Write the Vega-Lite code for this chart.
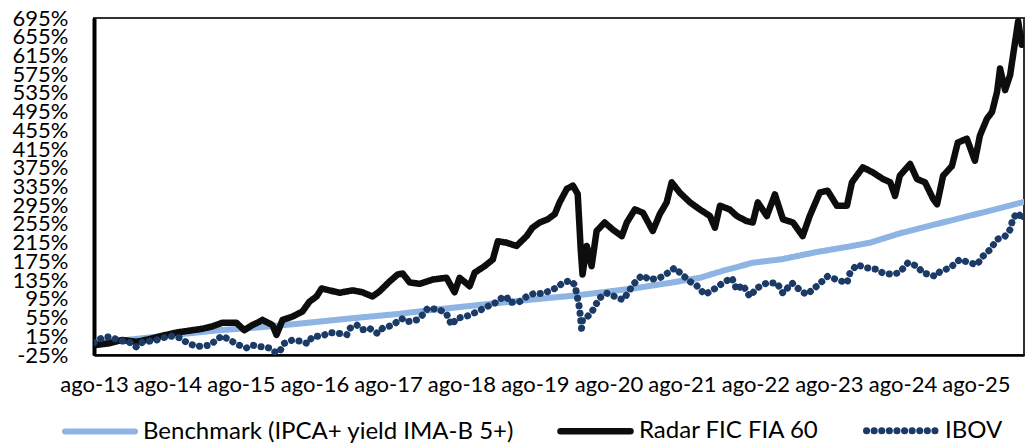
{
  "$schema": "https://vega.github.io/schema/vega-lite/v6.json",
  "width": 930,
  "height": 337,
  "autosize": "none",
  "padding": {"left": 94, "top": 18, "right": 1, "bottom": 89},
  "background": "white",
  "config": {
    "view": {"stroke": "#303030", "strokeWidth": 2},
    "font": "Lato",
    "axis": {"labelFont": "Lato", "labelFontSize": 22, "labelColor": "#000000", "grid": false, "ticks": false, "title": null},
    "legend": {"labelFont": "Lato", "labelFontSize": 24, "labelColor": "#000000"}
  },
  "datasets": {
    "series": [
      {"date": "2013-08-01", "series": "Benchmark (IPCA+ yield IMA-B 5+)", "value": 0},
      {"date": "2014-03-14", "series": "Benchmark (IPCA+ yield IMA-B 5+)", "value": 10},
      {"date": "2014-09-05", "series": "Benchmark (IPCA+ yield IMA-B 5+)", "value": 18},
      {"date": "2015-04-16", "series": "Benchmark (IPCA+ yield IMA-B 5+)", "value": 28},
      {"date": "2015-11-01", "series": "Benchmark (IPCA+ yield IMA-B 5+)", "value": 34},
      {"date": "2016-05-18", "series": "Benchmark (IPCA+ yield IMA-B 5+)", "value": 42},
      {"date": "2017-01-23", "series": "Benchmark (IPCA+ yield IMA-B 5+)", "value": 53},
      {"date": "2017-09-28", "series": "Benchmark (IPCA+ yield IMA-B 5+)", "value": 63},
      {"date": "2018-02-10", "series": "Benchmark (IPCA+ yield IMA-B 5+)", "value": 70},
      {"date": "2018-10-31", "series": "Benchmark (IPCA+ yield IMA-B 5+)", "value": 82},
      {"date": "2019-07-06", "series": "Benchmark (IPCA+ yield IMA-B 5+)", "value": 93},
      {"date": "2020-03-10", "series": "Benchmark (IPCA+ yield IMA-B 5+)", "value": 103},
      {"date": "2020-11-30", "series": "Benchmark (IPCA+ yield IMA-B 5+)", "value": 117},
      {"date": "2021-06-16", "series": "Benchmark (IPCA+ yield IMA-B 5+)", "value": 130},
      {"date": "2021-10-29", "series": "Benchmark (IPCA+ yield IMA-B 5+)", "value": 140},
      {"date": "2022-02-21", "series": "Benchmark (IPCA+ yield IMA-B 5+)", "value": 155},
      {"date": "2022-07-19", "series": "Benchmark (IPCA+ yield IMA-B 5+)", "value": 172},
      {"date": "2022-12-16", "series": "Benchmark (IPCA+ yield IMA-B 5+)", "value": 180},
      {"date": "2023-06-02", "series": "Benchmark (IPCA+ yield IMA-B 5+)", "value": 195},
      {"date": "2023-11-14", "series": "Benchmark (IPCA+ yield IMA-B 5+)", "value": 207},
      {"date": "2024-02-22", "series": "Benchmark (IPCA+ yield IMA-B 5+)", "value": 215},
      {"date": "2024-07-19", "series": "Benchmark (IPCA+ yield IMA-B 5+)", "value": 235},
      {"date": "2025-03-25", "series": "Benchmark (IPCA+ yield IMA-B 5+)", "value": 262},
      {"date": "2025-08-21", "series": "Benchmark (IPCA+ yield IMA-B 5+)", "value": 278},
      {"date": "2026-03-27", "series": "Benchmark (IPCA+ yield IMA-B 5+)", "value": 302},

      {"date": "2013-08-01", "series": "Radar FIC FIA 60", "value": -4},
      {"date": "2013-10-16", "series": "Radar FIC FIA 60", "value": 0},
      {"date": "2013-12-20", "series": "Radar FIC FIA 60", "value": 7},
      {"date": "2014-02-28", "series": "Radar FIC FIA 60", "value": 3},
      {"date": "2014-05-03", "series": "Radar FIC FIA 60", "value": 9},
      {"date": "2014-07-06", "series": "Radar FIC FIA 60", "value": 16},
      {"date": "2014-09-15", "series": "Radar FIC FIA 60", "value": 23},
      {"date": "2014-11-18", "series": "Radar FIC FIA 60", "value": 27},
      {"date": "2015-01-22", "series": "Radar FIC FIA 60", "value": 31},
      {"date": "2015-03-11", "series": "Radar FIC FIA 60", "value": 36},
      {"date": "2015-05-01", "series": "Radar FIC FIA 60", "value": 44},
      {"date": "2015-07-09", "series": "Radar FIC FIA 60", "value": 44},
      {"date": "2015-08-18", "series": "Radar FIC FIA 60", "value": 28},
      {"date": "2015-09-27", "series": "Radar FIC FIA 60", "value": 39},
      {"date": "2015-11-01", "series": "Radar FIC FIA 60", "value": 46},
      {"date": "2015-11-16", "series": "Radar FIC FIA 60", "value": 50},
      {"date": "2016-01-05", "series": "Radar FIC FIA 60", "value": 39},
      {"date": "2016-01-25", "series": "Radar FIC FIA 60", "value": 18},
      {"date": "2016-02-24", "series": "Radar FIC FIA 60", "value": 50},
      {"date": "2016-04-13", "series": "Radar FIC FIA 60", "value": 57},
      {"date": "2016-06-02", "series": "Radar FIC FIA 60", "value": 68},
      {"date": "2016-07-07", "series": "Radar FIC FIA 60", "value": 89},
      {"date": "2016-08-11", "series": "Radar FIC FIA 60", "value": 100},
      {"date": "2016-09-05", "series": "Radar FIC FIA 60", "value": 117},
      {"date": "2016-10-15", "series": "Radar FIC FIA 60", "value": 113},
      {"date": "2016-12-04", "series": "Radar FIC FIA 60", "value": 108},
      {"date": "2017-02-07", "series": "Radar FIC FIA 60", "value": 113},
      {"date": "2017-03-27", "series": "Radar FIC FIA 60", "value": 109},
      {"date": "2017-05-16", "series": "Radar FIC FIA 60", "value": 100},
      {"date": "2017-06-20", "series": "Radar FIC FIA 60", "value": 111},
      {"date": "2017-08-09", "series": "Radar FIC FIA 60", "value": 132},
      {"date": "2017-09-18", "series": "Radar FIC FIA 60", "value": 147},
      {"date": "2017-10-13", "series": "Radar FIC FIA 60", "value": 149},
      {"date": "2017-11-17", "series": "Radar FIC FIA 60", "value": 130},
      {"date": "2018-01-06", "series": "Radar FIC FIA 60", "value": 127},
      {"date": "2018-03-10", "series": "Radar FIC FIA 60", "value": 136},
      {"date": "2018-05-19", "series": "Radar FIC FIA 60", "value": 140},
      {"date": "2018-06-28", "series": "Radar FIC FIA 60", "value": 109},
      {"date": "2018-07-23", "series": "Radar FIC FIA 60", "value": 140},
      {"date": "2018-09-11", "series": "Radar FIC FIA 60", "value": 122},
      {"date": "2018-10-06", "series": "Radar FIC FIA 60", "value": 151},
      {"date": "2018-11-25", "series": "Radar FIC FIA 60", "value": 165},
      {"date": "2019-01-04", "series": "Radar FIC FIA 60", "value": 179},
      {"date": "2019-01-29", "series": "Radar FIC FIA 60", "value": 218},
      {"date": "2019-03-13", "series": "Radar FIC FIA 60", "value": 215},
      {"date": "2019-05-02", "series": "Radar FIC FIA 60", "value": 208},
      {"date": "2019-06-21", "series": "Radar FIC FIA 60", "value": 229},
      {"date": "2019-07-20", "series": "Radar FIC FIA 60", "value": 247},
      {"date": "2019-08-25", "series": "Radar FIC FIA 60", "value": 258},
      {"date": "2019-10-04", "series": "Radar FIC FIA 60", "value": 265},
      {"date": "2019-11-08", "series": "Radar FIC FIA 60", "value": 276},
      {"date": "2019-12-02", "series": "Radar FIC FIA 60", "value": 301},
      {"date": "2020-01-07", "series": "Radar FIC FIA 60", "value": 330},
      {"date": "2020-02-06", "series": "Radar FIC FIA 60", "value": 337},
      {"date": "2020-03-01", "series": "Radar FIC FIA 60", "value": 319},
      {"date": "2020-03-16", "series": "Radar FIC FIA 60", "value": 200},
      {"date": "2020-03-25", "series": "Radar FIC FIA 60", "value": 147},
      {"date": "2020-04-15", "series": "Radar FIC FIA 60", "value": 208},
      {"date": "2020-05-09", "series": "Radar FIC FIA 60", "value": 165},
      {"date": "2020-06-03", "series": "Radar FIC FIA 60", "value": 240},
      {"date": "2020-07-13", "series": "Radar FIC FIA 60", "value": 258},
      {"date": "2020-08-22", "series": "Radar FIC FIA 60", "value": 243},
      {"date": "2020-10-06", "series": "Radar FIC FIA 60", "value": 229},
      {"date": "2020-10-31", "series": "Radar FIC FIA 60", "value": 258},
      {"date": "2020-12-10", "series": "Radar FIC FIA 60", "value": 286},
      {"date": "2021-01-19", "series": "Radar FIC FIA 60", "value": 279},
      {"date": "2021-03-09", "series": "Radar FIC FIA 60", "value": 240},
      {"date": "2021-04-13", "series": "Radar FIC FIA 60", "value": 276},
      {"date": "2021-05-17", "series": "Radar FIC FIA 60", "value": 301},
      {"date": "2021-06-11", "series": "Radar FIC FIA 60", "value": 344},
      {"date": "2021-07-21", "series": "Radar FIC FIA 60", "value": 322},
      {"date": "2021-09-10", "series": "Radar FIC FIA 60", "value": 301},
      {"date": "2021-10-29", "series": "Radar FIC FIA 60", "value": 286},
      {"date": "2021-12-18", "series": "Radar FIC FIA 60", "value": 272},
      {"date": "2022-01-12", "series": "Radar FIC FIA 60", "value": 247},
      {"date": "2022-02-06", "series": "Radar FIC FIA 60", "value": 294},
      {"date": "2022-03-26", "series": "Radar FIC FIA 60", "value": 286},
      {"date": "2022-05-01", "series": "Radar FIC FIA 60", "value": 272},
      {"date": "2022-06-19", "series": "Radar FIC FIA 60", "value": 261},
      {"date": "2022-07-19", "series": "Radar FIC FIA 60", "value": 258},
      {"date": "2022-08-13", "series": "Radar FIC FIA 60", "value": 301},
      {"date": "2022-09-27", "series": "Radar FIC FIA 60", "value": 272},
      {"date": "2022-11-06", "series": "Radar FIC FIA 60", "value": 318},
      {"date": "2022-12-16", "series": "Radar FIC FIA 60", "value": 265},
      {"date": "2023-02-04", "series": "Radar FIC FIA 60", "value": 258},
      {"date": "2023-03-24", "series": "Radar FIC FIA 60", "value": 229},
      {"date": "2023-04-28", "series": "Radar FIC FIA 60", "value": 272},
      {"date": "2023-06-17", "series": "Radar FIC FIA 60", "value": 322},
      {"date": "2023-07-26", "series": "Radar FIC FIA 60", "value": 326},
      {"date": "2023-09-10", "series": "Radar FIC FIA 60", "value": 294},
      {"date": "2023-10-30", "series": "Radar FIC FIA 60", "value": 294},
      {"date": "2023-11-24", "series": "Radar FIC FIA 60", "value": 344},
      {"date": "2024-01-17", "series": "Radar FIC FIA 60", "value": 376},
      {"date": "2024-03-07", "series": "Radar FIC FIA 60", "value": 365},
      {"date": "2024-04-26", "series": "Radar FIC FIA 60", "value": 351},
      {"date": "2024-06-01", "series": "Radar FIC FIA 60", "value": 344},
      {"date": "2024-06-25", "series": "Radar FIC FIA 60", "value": 315},
      {"date": "2024-07-19", "series": "Radar FIC FIA 60", "value": 358},
      {"date": "2024-09-08", "series": "Radar FIC FIA 60", "value": 383},
      {"date": "2024-10-12", "series": "Radar FIC FIA 60", "value": 351},
      {"date": "2024-11-21", "series": "Radar FIC FIA 60", "value": 344},
      {"date": "2025-01-01", "series": "Radar FIC FIA 60", "value": 308},
      {"date": "2025-01-20", "series": "Radar FIC FIA 60", "value": 297},
      {"date": "2025-02-19", "series": "Radar FIC FIA 60", "value": 358},
      {"date": "2025-04-04", "series": "Radar FIC FIA 60", "value": 379},
      {"date": "2025-05-03", "series": "Radar FIC FIA 60", "value": 429},
      {"date": "2025-06-17", "series": "Radar FIC FIA 60", "value": 437},
      {"date": "2025-07-27", "series": "Radar FIC FIA 60", "value": 390},
      {"date": "2025-08-21", "series": "Radar FIC FIA 60", "value": 444},
      {"date": "2025-09-25", "series": "Radar FIC FIA 60", "value": 480},
      {"date": "2025-10-20", "series": "Radar FIC FIA 60", "value": 494},
      {"date": "2025-11-14", "series": "Radar FIC FIA 60", "value": 537},
      {"date": "2025-11-29", "series": "Radar FIC FIA 60", "value": 587},
      {"date": "2025-12-24", "series": "Radar FIC FIA 60", "value": 541},
      {"date": "2026-01-18", "series": "Radar FIC FIA 60", "value": 573},
      {"date": "2026-02-12", "series": "Radar FIC FIA 60", "value": 645},
      {"date": "2026-02-27", "series": "Radar FIC FIA 60", "value": 688},
      {"date": "2026-03-17", "series": "Radar FIC FIA 60", "value": 638},
      {"date": "2026-03-27", "series": "Radar FIC FIA 60", "value": 655},

      {"date": "2013-08-01", "series": "IBOV", "value": 2},
      {"date": "2013-09-12", "series": "IBOV", "value": 12},
      {"date": "2013-10-17", "series": "IBOV", "value": 14},
      {"date": "2013-12-06", "series": "IBOV", "value": 6},
      {"date": "2014-01-25", "series": "IBOV", "value": 2},
      {"date": "2014-02-28", "series": "IBOV", "value": -8},
      {"date": "2014-03-29", "series": "IBOV", "value": 2},
      {"date": "2014-06-07", "series": "IBOV", "value": 7},
      {"date": "2014-08-11", "series": "IBOV", "value": 16},
      {"date": "2014-09-30", "series": "IBOV", "value": 12},
      {"date": "2014-11-04", "series": "IBOV", "value": 2},
      {"date": "2014-12-23", "series": "IBOV", "value": -7},
      {"date": "2015-02-27", "series": "IBOV", "value": -4},
      {"date": "2015-04-01", "series": "IBOV", "value": 7},
      {"date": "2015-05-01", "series": "IBOV", "value": 16},
      {"date": "2015-06-05", "series": "IBOV", "value": 7},
      {"date": "2015-07-24", "series": "IBOV", "value": -4},
      {"date": "2015-08-28", "series": "IBOV", "value": -10},
      {"date": "2015-09-27", "series": "IBOV", "value": -4},
      {"date": "2015-11-01", "series": "IBOV", "value": -7},
      {"date": "2015-12-21", "series": "IBOV", "value": -10},
      {"date": "2016-01-25", "series": "IBOV", "value": -21},
      {"date": "2016-02-09", "series": "IBOV", "value": -18},
      {"date": "2016-03-04", "series": "IBOV", "value": 0},
      {"date": "2016-04-13", "series": "IBOV", "value": 7},
      {"date": "2016-06-02", "series": "IBOV", "value": 4},
      {"date": "2016-06-27", "series": "IBOV", "value": -1},
      {"date": "2016-07-21", "series": "IBOV", "value": 14},
      {"date": "2016-09-10", "series": "IBOV", "value": 16},
      {"date": "2016-10-15", "series": "IBOV", "value": 23},
      {"date": "2016-12-04", "series": "IBOV", "value": 21},
      {"date": "2017-01-08", "series": "IBOV", "value": 18},
      {"date": "2017-01-23", "series": "IBOV", "value": 32},
      {"date": "2017-02-27", "series": "IBOV", "value": 39},
      {"date": "2017-03-27", "series": "IBOV", "value": 29},
      {"date": "2017-05-01", "series": "IBOV", "value": 32},
      {"date": "2017-06-10", "series": "IBOV", "value": 21},
      {"date": "2017-07-05", "series": "IBOV", "value": 32},
      {"date": "2017-08-24", "series": "IBOV", "value": 39},
      {"date": "2017-10-08", "series": "IBOV", "value": 53},
      {"date": "2017-11-02", "series": "IBOV", "value": 46},
      {"date": "2017-12-22", "series": "IBOV", "value": 50},
      {"date": "2018-01-21", "series": "IBOV", "value": 61},
      {"date": "2018-02-15", "series": "IBOV", "value": 75},
      {"date": "2018-04-14", "series": "IBOV", "value": 72},
      {"date": "2018-05-19", "series": "IBOV", "value": 63},
      {"date": "2018-06-13", "series": "IBOV", "value": 39},
      {"date": "2018-07-08", "series": "IBOV", "value": 53},
      {"date": "2018-08-27", "series": "IBOV", "value": 58},
      {"date": "2018-10-16", "series": "IBOV", "value": 67},
      {"date": "2018-12-05", "series": "IBOV", "value": 78},
      {"date": "2019-01-14", "series": "IBOV", "value": 86},
      {"date": "2019-02-18", "series": "IBOV", "value": 97},
      {"date": "2019-03-13", "series": "IBOV", "value": 100},
      {"date": "2019-03-28", "series": "IBOV", "value": 87},
      {"date": "2019-05-17", "series": "IBOV", "value": 89},
      {"date": "2019-06-21", "series": "IBOV", "value": 100},
      {"date": "2019-07-31", "series": "IBOV", "value": 107},
      {"date": "2019-09-09", "series": "IBOV", "value": 106},
      {"date": "2019-10-24", "series": "IBOV", "value": 114},
      {"date": "2019-11-23", "series": "IBOV", "value": 120},
      {"date": "2019-12-17", "series": "IBOV", "value": 129},
      {"date": "2020-01-22", "series": "IBOV", "value": 134},
      {"date": "2020-02-16", "series": "IBOV", "value": 125},
      {"date": "2020-03-10", "series": "IBOV", "value": 75},
      {"date": "2020-03-20", "series": "IBOV", "value": 32},
      {"date": "2020-03-25", "series": "IBOV", "value": 50},
      {"date": "2020-04-19", "series": "IBOV", "value": 57},
      {"date": "2020-05-14", "series": "IBOV", "value": 70},
      {"date": "2020-06-18", "series": "IBOV", "value": 97},
      {"date": "2020-07-23", "series": "IBOV", "value": 107},
      {"date": "2020-09-02", "series": "IBOV", "value": 100},
      {"date": "2020-10-11", "series": "IBOV", "value": 93},
      {"date": "2020-11-05", "series": "IBOV", "value": 107},
      {"date": "2020-11-30", "series": "IBOV", "value": 125},
      {"date": "2021-01-14", "series": "IBOV", "value": 145},
      {"date": "2021-02-23", "series": "IBOV", "value": 136},
      {"date": "2021-04-13", "series": "IBOV", "value": 140},
      {"date": "2021-05-22", "series": "IBOV", "value": 150},
      {"date": "2021-06-26", "series": "IBOV", "value": 161},
      {"date": "2021-08-01", "series": "IBOV", "value": 147},
      {"date": "2021-09-10", "series": "IBOV", "value": 132},
      {"date": "2021-10-14", "series": "IBOV", "value": 123},
      {"date": "2021-11-23", "series": "IBOV", "value": 104},
      {"date": "2022-01-02", "series": "IBOV", "value": 114},
      {"date": "2022-02-21", "series": "IBOV", "value": 129},
      {"date": "2022-04-06", "series": "IBOV", "value": 140},
      {"date": "2022-05-01", "series": "IBOV", "value": 114},
      {"date": "2022-05-30", "series": "IBOV", "value": 125},
      {"date": "2022-07-04", "series": "IBOV", "value": 100},
      {"date": "2022-08-08", "series": "IBOV", "value": 118},
      {"date": "2022-09-27", "series": "IBOV", "value": 129},
      {"date": "2022-11-16", "series": "IBOV", "value": 129},
      {"date": "2022-12-16", "series": "IBOV", "value": 107},
      {"date": "2023-01-30", "series": "IBOV", "value": 129},
      {"date": "2023-03-09", "series": "IBOV", "value": 114},
      {"date": "2023-04-13", "series": "IBOV", "value": 104},
      {"date": "2023-06-02", "series": "IBOV", "value": 122},
      {"date": "2023-07-26", "series": "IBOV", "value": 143},
      {"date": "2023-09-10", "series": "IBOV", "value": 136},
      {"date": "2023-10-30", "series": "IBOV", "value": 129},
      {"date": "2023-11-14", "series": "IBOV", "value": 150},
      {"date": "2023-12-18", "series": "IBOV", "value": 168},
      {"date": "2024-02-07", "series": "IBOV", "value": 161},
      {"date": "2024-03-27", "series": "IBOV", "value": 158},
      {"date": "2024-04-26", "series": "IBOV", "value": 150},
      {"date": "2024-06-15", "series": "IBOV", "value": 147},
      {"date": "2024-07-19", "series": "IBOV", "value": 152},
      {"date": "2024-08-28", "series": "IBOV", "value": 172},
      {"date": "2024-10-12", "series": "IBOV", "value": 165},
      {"date": "2024-11-12", "series": "IBOV", "value": 150},
      {"date": "2024-12-16", "series": "IBOV", "value": 147},
      {"date": "2025-01-11", "series": "IBOV", "value": 143},
      {"date": "2025-02-05", "series": "IBOV", "value": 154},
      {"date": "2025-03-25", "series": "IBOV", "value": 161},
      {"date": "2025-05-13", "series": "IBOV", "value": 179},
      {"date": "2025-07-02", "series": "IBOV", "value": 172},
      {"date": "2025-08-06", "series": "IBOV", "value": 168},
      {"date": "2025-09-05", "series": "IBOV", "value": 186},
      {"date": "2025-10-10", "series": "IBOV", "value": 200},
      {"date": "2025-11-14", "series": "IBOV", "value": 222},
      {"date": "2025-12-24", "series": "IBOV", "value": 229},
      {"date": "2026-01-18", "series": "IBOV", "value": 243},
      {"date": "2026-02-02", "series": "IBOV", "value": 268},
      {"date": "2026-02-27", "series": "IBOV", "value": 279},
      {"date": "2026-03-17", "series": "IBOV", "value": 265},
      {"date": "2026-03-27", "series": "IBOV", "value": 270}
    ]
  },
  "data": {"name": "series"},
  "mark": {"type": "line", "strokeCap": "round", "strokeJoin": "round", "clip": true},
  "encoding": {
    "x": {
      "field": "date", "type": "temporal",
      "scale": {"domain": ["2013-08-01", "2026-03-28"]},
      "axis": {
        "values": [
          {"year": 2013, "month": 8, "date": 1}, {"year": 2014, "month": 8, "date": 1},
          {"year": 2015, "month": 8, "date": 1}, {"year": 2016, "month": 8, "date": 1},
          {"year": 2017, "month": 8, "date": 1}, {"year": 2018, "month": 8, "date": 1},
          {"year": 2019, "month": 8, "date": 1}, {"year": 2020, "month": 8, "date": 1},
          {"year": 2021, "month": 8, "date": 1}, {"year": 2022, "month": 8, "date": 1},
          {"year": 2023, "month": 8, "date": 1}, {"year": 2024, "month": 8, "date": 1},
          {"year": 2025, "month": 8, "date": 1}
        ],
        "labelExpr": "'ago-' + timeFormat(datum.value, '%y')",
        "labelPadding": 19,
        "labelOverlap": false,
        "labelFlush": false,
        "labelBound": false,
        "domainColor": "#000000",
        "domainWidth": 2.5
      }
    },
    "y": {
      "field": "value", "type": "quantitative",
      "scale": {"domain": [-25, 695], "nice": false, "zero": false},
      "axis": {
        "values": [-25, 15, 55, 95, 135, 175, 215, 255, 295, 335, 375, 415, 455, 495, 535, 575, 615, 655, 695],
        "labelExpr": "datum.value + '%'",
        "labelPadding": 26,
        "labelOverlap": false,
        "labelFlush": false,
        "labelBound": false,
        "domainColor": "#000000",
        "domainWidth": 4
      }
    },
    "color": {
      "field": "series", "type": "nominal",
      "scale": {
        "domain": ["Benchmark (IPCA+ yield IMA-B 5+)", "Radar FIC FIA 60", "IBOV"],
        "range": ["#8DB4E2", "#0D0D0D", "#1B3A66"]
      },
      "legend": {
        "title": null,
        "orient": "none",
        "direction": "horizontal",
        "legendX": -32,
        "legendY": 374,
        "symbolType": "stroke",
        "symbolSize": 4900,
        "labelOffset": 5,
        "columnPadding": 32,
        "labelLimit": 600,
        "encode": {"symbols": {"update": {"strokeCap": {"value": "round"}}}}
      }
    },
    "strokeDash": {
      "field": "series", "type": "nominal",
      "scale": {
        "domain": ["Benchmark (IPCA+ yield IMA-B 5+)", "Radar FIC FIA 60", "IBOV"],
        "range": [[1, 0], [1, 0], [0.1, 7.5]]
      },
      "legend": null
    },
    "strokeWidth": {
      "field": "series", "type": "nominal",
      "scale": {
        "domain": ["Benchmark (IPCA+ yield IMA-B 5+)", "Radar FIC FIA 60", "IBOV"],
        "range": [6, 7, 6]
      },
      "legend": null
    }
  }
}
